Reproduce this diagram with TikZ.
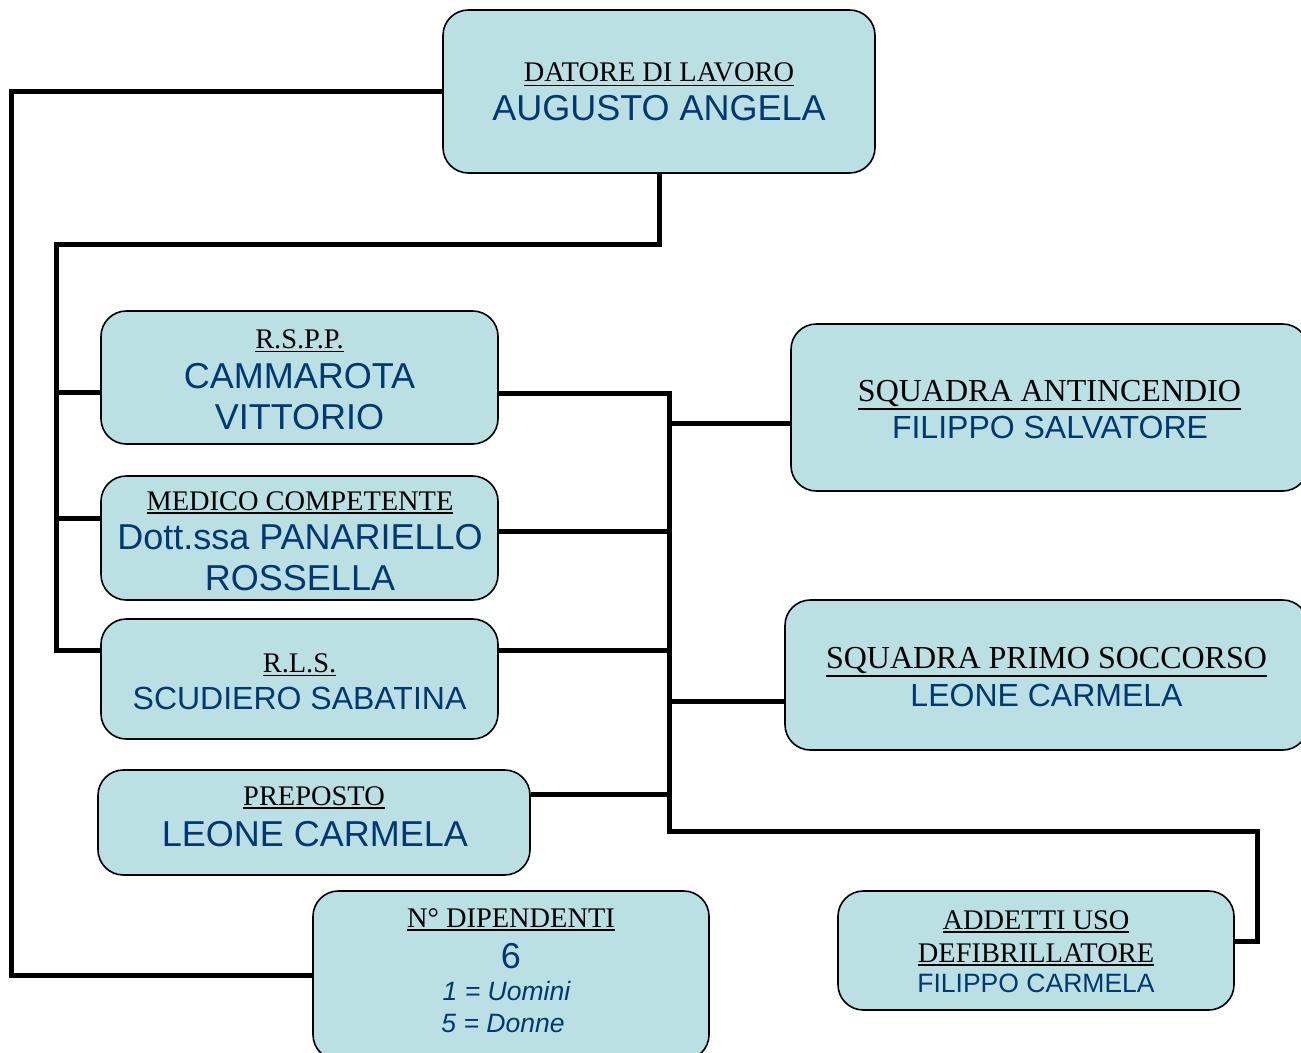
\documentclass[tikz,border=0pt]{standalone}
\usepackage{fontspec}
\setmainfont{Liberation Serif}
\newfontfamily\arialf{Liberation Sans}
\definecolor{boxfill}{RGB}{186,224,227}
\definecolor{nameblue}{RGB}{0,56,115}
\newdimen\pxu \pxu=0.75pt
\newcommand\ulx[1]{\leavevmode\vtop{\hbox{#1}\kern1.6pt\hrule height 1.4pt}}
\begin{document}
\begin{tikzpicture}[x=0.75pt,y=-0.75pt,
  box/.style={draw=black, line width=1.2pt, fill=boxfill, rounded corners=19pt, inner sep=0pt},
  conn/.style={line width=3.75pt, line join=miter},
  lbl/.style={anchor=base, inner sep=0pt, font=\fontsize{21.3pt}{24pt}\selectfont},
  lblb/.style={lbl, font=\fontsize{24pt}{28pt}\selectfont},
  nm/.style={anchor=base, inner sep=0pt, text=nameblue, font=\arialf\fontsize{27pt}{30pt}\selectfont},
  nms/.style={nm, font=\arialf\fontsize{24pt}{28pt}\selectfont},
  nmt/.style={nm, font=\arialf\fontsize{19.9pt}{22pt}\selectfont},
]
\path[use as bounding box, clip] (0,0) rectangle (1301,1052);

% boxes
\node[box, minimum width=432\pxu, minimum height=163\pxu] (datore) at (659,91.5) {};
\node[box, minimum width=397\pxu, minimum height=133\pxu] (rspp) at (299.5,377.5) {};
\node[box, minimum width=397\pxu, minimum height=124\pxu] (medico) at (299.5,538) {};
\node[box, minimum width=397\pxu, minimum height=120\pxu] (rls) at (299.5,679) {};
\node[box, minimum width=432\pxu, minimum height=105\pxu] (prep) at (314,822.5) {};
\node[box, minimum width=396\pxu, minimum height=169\pxu] (ndip) at (511,975.5) {};
\node[box, minimum width=517\pxu, minimum height=167\pxu] (sqa) at (1049.5,407.5) {};
\node[box, minimum width=523\pxu, minimum height=150\pxu] (sqp) at (1046.5,675) {};
\node[box, minimum width=396\pxu, minimum height=119\pxu] (defib) at (1036,950.5) {};

% texts
\node[lbl] (t1a) at (659,82) {\ulx{DATORE DI LAVORO}};
\node[nm]  (t1b) at (659,121) {AUGUSTO ANGELA};

\node[lbl] (t2a) at (299.5,348) {\ulx{R.S.P.P.}};
\node[nm]  (t2b) at (299.5,388) {CAMMAROTA};
\node[nm]  (t2c) at (299.5,429) {VITTORIO};

\node[lbl] (t3a) at (300,510) {\ulx{MEDICO COMPETENTE}};
\node[nm]  (t3b) at (300,549) {Dott.ssa PANARIELLO};
\node[nm]  (t3c) at (300,590) {ROSSELLA};

\node[lbl] (t4a) at (299.5,672) {\ulx{R.L.S.}};
\node[nms] (t4b) at (299.5,709) {SCUDIERO SABATINA};

\node[lbl] (t5a) at (314,805) {\ulx{PREPOSTO}};
\node[nm]  (t5b) at (315,846) {LEONE CARMELA};

\node[lbl] (t6a) at (511,927) {\ulx{N° DIPENDENTI}};
\node[nm]  (t6b) at (511,968) {6};
\node[nmt] (t6c) at (506.5,1000) {\itshape 1 = Uomini};
\node[nmt] (t6d) at (503,1032) {\itshape 5 = Donne};

\node[lblb] (t7a) at (1049.5,401) {\ulx{SQUADRA ANTINCENDIO}};
\node[nms]  (t7b) at (1050,438) {FILIPPO SALVATORE};

\node[lblb] (t8a) at (1046.5,668) {\ulx{SQUADRA PRIMO SOCCORSO}};
\node[nms]  (t8b) at (1046.5,706) {LEONE CARMELA};

\node[lbl] (t9a) at (1036,929) {\ulx{ADDETTI USO}};
\node[lbl] (t9b) at (1036,962) {\ulx{DEFIBRILLATORE}};
\node[nmt] (t9c) at (1036,992) {FILIPPO CARMELA};

% junction coordinates
\coordinate (xL) at (11,92);
\coordinate (xM) at (56,244);
\coordinate (b1) at (56,392);
\coordinate (b2) at (56,518);
\coordinate (b3) at (56,650);
\coordinate (r1) at (669,393);
\coordinate (r2) at (669,531);
\coordinate (r3) at (669,650);
\coordinate (r4) at (669,794);
\coordinate (ra) at (669,423);
\coordinate (rp) at (669,701);
\coordinate (rb) at (669,831);
\coordinate (xR) at (1257,831);
\coordinate (d1) at (1257,941);

% connectors
\draw[conn] (datore.west) -- (datore.west -| xL) -- (ndip.west -| xL) -- (ndip.west);
\draw[conn] (datore.south) -- (datore.south |- xM) -- (xM) -- (b3) -- (rls.west |- b3);
\draw[conn] (b1) -- (rspp.west |- b1);
\draw[conn] (b2) -- (medico.west |- b2);
\draw[conn] (rspp.east |- r1) -- (r1) -- (rb) -- (xR) -- (d1) -- (defib.east |- d1);
\draw[conn] (medico.east |- r2) -- (r2);
\draw[conn] (rls.east |- r3) -- (r3);
\draw[conn] (prep.east |- r4) -- (r4);
\draw[conn] (ra) -- (sqa.west |- ra);
\draw[conn] (rp) -- (sqp.west |- rp);
\end{tikzpicture}
\end{document}
